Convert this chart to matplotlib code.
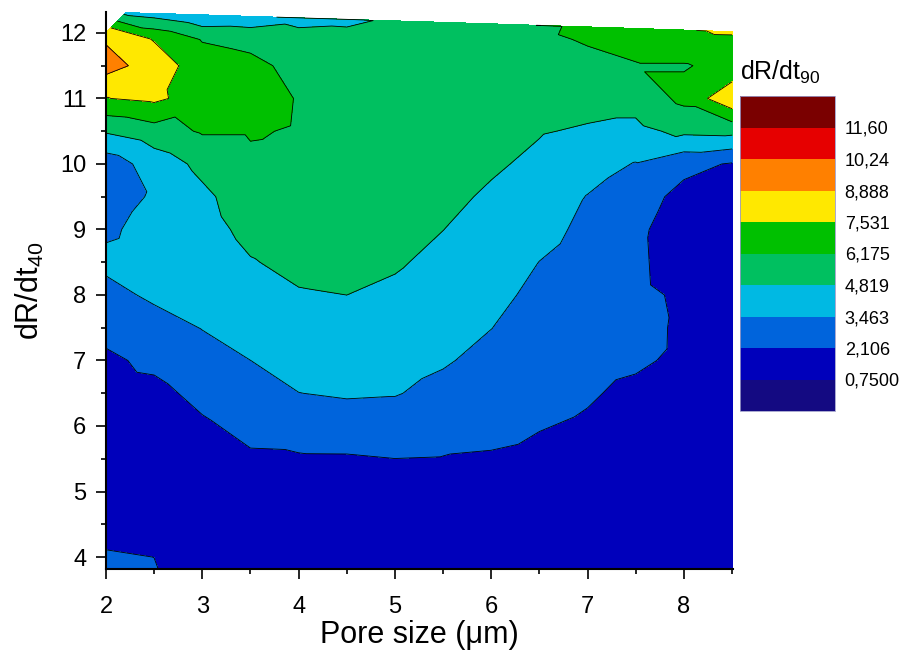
import numpy as np
import matplotlib.pyplot as plt
import matplotlib.tri as mtri
from matplotlib.ticker import MultipleLocator

plt.rcParams['font.family'] = ['Liberation Sans', 'DejaVu Sans']
plt.rcParams['mathtext.fontset'] = 'custom'
plt.rcParams['mathtext.rm'] = 'Liberation Sans'

# measurement grid: pore size (x) and dR/dt40 (y)
pore_size = [2.0, 2.5, 3.0, 3.5, 4.0, 4.5, 5.0, 5.5, 6.0, 6.5, 7.0, 7.5, 8.0, 8.5]
dr_dt40 = [3.5, 4.0, 4.5, 5.0, 5.5, 6.0, 6.5, 7.0, 7.5, 8.0,
           8.5, 9.0, 9.5, 10.0, 10.5, 11.0, 11.5, 11.9]

# dR/dt90, one row per dr_dt40 value, one column per pore size
dr_dt90 = [
    [2.60, 2.30, 1.50, 1.40, 1.35, 1.30, 1.30, 1.30, 1.30, 1.30, 1.30, 1.30, 1.25, 1.20],
    [2.25, 2.10, 1.40, 1.35, 1.30, 1.25, 1.25, 1.25, 1.25, 1.25, 1.25, 1.25, 1.20, 1.15],
    [1.60, 1.55, 1.30, 1.30, 1.25, 1.20, 1.20, 1.25, 1.30, 1.30, 1.30, 1.25, 1.20, 1.15],
    [1.40, 1.35, 1.25, 1.35, 1.30, 1.30, 1.50, 1.50, 1.60, 1.60, 1.40, 1.30, 1.20, 1.15],
    [1.35, 1.30, 1.40, 1.94, 1.97, 1.98, 2.10, 2.06, 2.01, 1.89, 1.60, 1.45, 1.25, 1.15],
    [1.40, 1.40, 1.92, 2.45, 2.72, 2.85, 2.85, 2.60, 2.38, 2.15, 1.99, 1.65, 1.35, 1.15],
    [1.60, 1.75, 2.46, 2.96, 3.45, 3.59, 3.53, 3.13, 2.75, 2.41, 2.20, 1.90, 1.60, 1.15],
    [1.87, 2.39, 2.99, 3.46, 3.88, 4.00, 3.88, 3.58, 3.12, 2.67, 2.40, 2.25, 1.92, 1.20],
    [2.50, 3.02, 3.50, 3.89, 4.31, 4.41, 4.24, 3.89, 3.48, 2.93, 2.61, 2.45, 1.93, 1.20],
    [3.13, 3.65, 3.80, 4.32, 4.73, 4.82, 4.59, 4.20, 3.77, 3.19, 2.81, 2.50, 1.84, 1.25],
    [3.70, 3.90, 4.08, 4.75, 5.10, 5.20, 4.95, 4.51, 4.06, 3.45, 3.01, 2.45, 1.22, 1.30],
    [3.30, 3.80, 4.37, 5.14, 5.40, 5.45, 5.25, 4.83, 4.35, 3.81, 3.22, 2.40, 1.35, 1.40],
    [2.90, 3.60, 4.55, 5.51, 5.60, 5.60, 5.45, 5.15, 4.63, 4.17, 3.42, 2.75, 1.68, 1.60],
    [2.70, 4.08, 5.15, 5.89, 5.80, 5.75, 5.60, 5.40, 5.00, 4.54, 3.99, 3.40, 2.50, 2.00],
    [4.95, 5.62, 6.30, 6.30, 6.05, 5.85, 5.70, 5.55, 5.35, 4.90, 4.67, 4.49, 5.10, 5.20],
    [7.50, 7.80, 6.90, 6.80, 6.10, 5.85, 5.70, 5.60, 5.55, 5.30, 5.30, 5.30, 6.50, 8.60],
    [9.40, 8.30, 6.80, 6.50, 5.80, 5.60, 5.60, 5.60, 5.70, 5.65, 5.80, 6.10, 6.10, 6.50],
    [8.76, 7.45, 6.10, 5.82, 5.30, 5.20, 5.40, 5.50, 5.80, 5.90, 6.30, 6.60, 6.90, 7.00],
]

# points along the upper edge of the measured region
edge_x = [2.0, 2.2, 2.5, 3.0, 3.5, 4.0, 4.5, 5.0, 5.5, 6.0, 6.5, 7.0, 7.5, 8.0, 8.5]
edge_y = [12.0, 12.31, 12.30, 12.27, 12.25, 12.23, 12.20, 12.18, 12.16,
          12.14, 12.11, 12.09, 12.07, 12.04, 12.02]
edge_z = [8.55, 4.5, 4.26, 3.7, 3.9, 4.42, 4.6, 5.0, 5.3, 5.8, 5.8, 6.6, 6.9, 7.2, 7.9]

levels = [-0.606, 0.75, 2.106, 3.463, 4.819, 6.175, 7.531, 8.888, 10.24, 11.60, 12.96]
level_labels = ['0,7500', '2,106', '3,463', '4,819', '6,175',
                '7,531', '8,888', '10,24', '11,60']
colors = ['#140A82', '#0000BB', '#0064DC', '#00B9E3', '#00C060',
          '#00C000', '#FFE800', '#FF8000', '#E60000', '#7A0000']

X, Y = np.meshgrid(pore_size, dr_dt40)
x = np.concatenate([X.ravel(), edge_x])
y = np.concatenate([Y.ravel(), edge_y])
z = np.concatenate([np.array(dr_dt90).ravel(), edge_z])
tri = mtri.Triangulation(x, y)

fig = plt.figure(figsize=(9.01, 6.63), dpi=100)
ax = fig.add_axes([106 / 901, 1 - 569 / 663, 627 / 901, 557 / 663])

cs = ax.tricontourf(tri, z, levels=levels, colors=colors)
ax.tricontour(tri, z, levels=levels, colors='k', linewidths=0.6)

ax.set_xlim(2, 8.51)
ax.set_ylim(3.817, 12.32)
ax.xaxis.set_major_locator(MultipleLocator(1))
ax.xaxis.set_minor_locator(MultipleLocator(0.5))
ax.yaxis.set_major_locator(MultipleLocator(1))
ax.yaxis.set_minor_locator(MultipleLocator(0.5))
ax.tick_params(which='major', direction='out', length=7.2, width=1.2, labelsize=17)
ax.tick_params(which='minor', direction='out', length=3.8, width=1.2)
ax.tick_params(axis='x', which='major', pad=12)
ax.tick_params(axis='y', which='major', pad=7)
for side in ['top', 'right']:
    ax.spines[side].set_visible(False)
for side in ['left', 'bottom']:
    ax.spines[side].set_linewidth(1.5)

ax.set_xlabel('Pore size (\u03bcm)', fontsize=22, labelpad=2)
ax.set_ylabel('dR/dt$_{\\mathregular{40}}$', fontsize=22, labelpad=10)

cax = fig.add_axes([740 / 901, 1 - 411 / 663, 95 / 901, 315 / 663])
cb = fig.colorbar(cs, cax=cax)
cb.set_ticks(levels[1:-1])
cb.set_ticklabels(level_labels)
cb.ax.tick_params(length=0, labelsize=13, pad=7)
cb.outline.set_edgecolor('#9a9ac8')
cb.outline.set_linewidth(0.6)
fig.text(740 / 901, 1 - 72 / 663, 'dR/dt$_{\\mathregular{90}}$', fontsize=18, va='center')

fig.savefig('out.png', dpi=100)
